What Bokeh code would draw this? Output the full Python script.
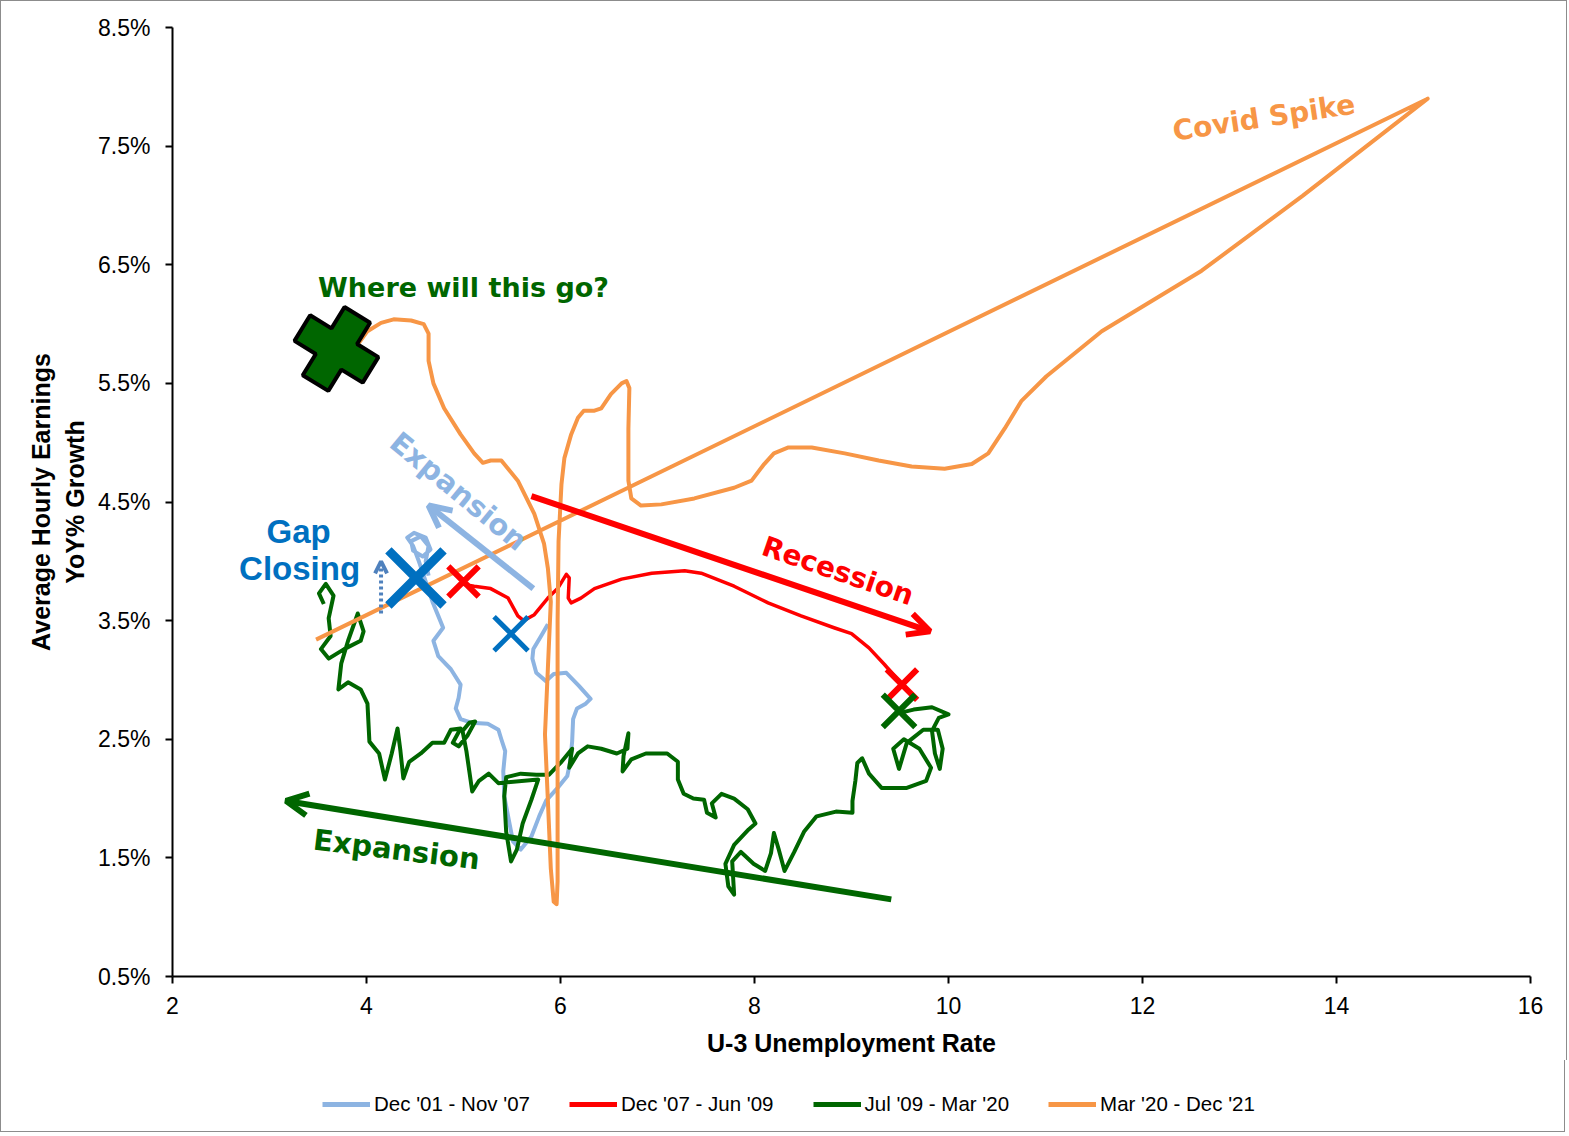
from bokeh.plotting import figure
from bokeh.layouts import column
from bokeh.models import (FixedTicker, PrintfTickFormatter, Legend, LegendItem,
                          Arrow, OpenHead, Label)
from bokeh.embed import file_html
from bokeh.resources import INLINE

# ---------------- data (U-3 unemployment rate, AHE YoY %) ----------------
lb_x = [5.87, 5.80, 5.72, 5.71, 5.75, 5.85, 5.93, 6.06, 6.19, 6.31, 6.26, 6.17, 6.13,
        6.12, 6.10, 6.07, 5.97, 5.85, 5.78, 5.70, 5.59, 5.51, 5.46, 5.42, 5.41, 5.43,
        5.39, 5.36, 5.25, 5.08, 4.97, 4.92, 4.95, 4.97, 4.87, 4.74, 4.69, 4.79, 4.74,
        4.68, 4.61, 4.54, 4.48, 4.42, 4.49, 4.61, 4.66, 4.58, 4.48, 4.46, 4.56, 4.64,
        4.61, 4.64]
lb_y = [3.47, 3.37, 3.26, 3.18, 3.06, 2.99, 3.05, 3.06, 2.95, 2.84, 2.80, 2.76, 2.67,
        2.48, 2.31, 2.19, 2.09, 1.98, 1.85, 1.68, 1.57, 1.64, 1.85, 2.02, 2.23, 2.40,
        2.50, 2.58, 2.63, 2.64, 2.67, 2.76, 2.85, 2.96, 3.09, 3.20, 3.33, 3.44, 3.54,
        3.66, 3.83, 4.00, 4.13, 4.20, 4.24, 4.20, 4.10, 4.04, 4.09, 4.17, 4.21, 4.13,
        4.00, 3.88]

red_x = [4.97, 5.11, 5.28, 5.46, 5.56, 5.62, 5.73, 5.87, 5.97, 6.06, 6.09, 6.08, 6.11,
         6.21, 6.35, 6.63, 6.94, 7.28, 7.45, 7.79, 8.14, 8.48, 8.82, 9.00, 9.18, 9.34, 9.52]
red_y = [3.81, 3.79, 3.77, 3.69, 3.54, 3.50, 3.55, 3.69, 3.77, 3.89, 3.86, 3.69, 3.65,
         3.69, 3.77, 3.85, 3.90, 3.92, 3.90, 3.79, 3.65, 3.54, 3.44, 3.39, 3.27, 3.13, 2.96]

grn_x = [9.49, 9.64, 9.83, 10.00, 9.90, 9.83, 9.86, 9.91, 9.94, 9.89, 9.74, 9.57, 9.49,
         9.43, 9.54, 9.70, 9.82, 9.77, 9.57, 9.31, 9.18, 9.11, 9.06, 9.04, 9.01, 9.01,
         8.84, 8.64, 8.51, 8.41, 8.31, 8.25, 8.20, 8.17, 8.11, 7.99, 7.86, 7.77, 7.79,
         7.73, 7.70, 7.79, 7.94, 8.01, 7.93, 7.79, 7.66, 7.56, 7.60, 7.51, 7.48, 7.37,
         7.27, 7.21, 7.21, 7.10, 6.88, 6.73, 6.64, 6.65, 6.70, 6.69, 6.58, 6.42, 6.28,
         6.18, 6.09, 6.12, 6.01, 5.88, 5.75, 5.59, 5.44, 5.42, 5.44, 5.49, 5.55, 5.61,
         5.70, 5.77, 5.36, 5.26, 5.16, 5.09, 5.06, 5.03, 4.99, 5.06, 5.12, 5.04, 4.95,
         4.89, 4.97, 4.87, 4.80, 4.68, 4.56, 4.44, 4.38, 4.35, 4.32, 4.26, 4.19, 4.13,
         4.03, 4.01, 3.94, 3.81, 3.71, 3.74, 3.81, 3.91, 3.97, 3.94, 3.77, 3.61, 3.53,
         3.63, 3.61, 3.66, 3.58, 3.51, 3.56]
grn_y = [2.72, 2.75, 2.77, 2.71, 2.68, 2.57, 2.38, 2.25, 2.42, 2.58, 2.58, 2.47, 2.25,
         2.42, 2.50, 2.42, 2.26, 2.15, 2.09, 2.09, 2.21, 2.34, 2.30, 2.15, 1.98, 1.88,
         1.89, 1.85, 1.72, 1.55, 1.39, 1.57, 1.71, 1.54, 1.39, 1.45, 1.55, 1.47, 1.19,
         1.26, 1.45, 1.61, 1.74, 1.79, 1.91, 2.00, 2.04, 1.96, 1.84, 1.88, 1.99, 2.00,
         2.04, 2.16, 2.31, 2.38, 2.38, 2.33, 2.23, 2.36, 2.55, 2.42, 2.38, 2.42, 2.44,
         2.38, 2.26, 2.42, 2.31, 2.20, 2.20, 2.21, 2.18, 2.02, 1.72, 1.47, 1.57, 1.79,
         1.99, 2.16, 2.13, 2.21, 2.15, 2.06, 2.23, 2.40, 2.57, 2.64, 2.65, 2.53, 2.44,
         2.47, 2.59, 2.58, 2.47, 2.47, 2.38, 2.31, 2.17, 2.40, 2.59, 2.38, 2.16, 2.38,
         2.48, 2.80, 2.92, 2.98, 2.92, 3.14, 3.33, 3.56, 3.41, 3.33, 3.26, 3.18, 3.26,
         3.37, 3.52, 3.71, 3.81, 3.73, 3.64]

org_x = [3.48, 14.94, 13.65, 12.61, 11.58, 11.01, 10.75, 10.58, 10.41, 10.24, 9.96,
         9.62, 9.28, 8.93, 8.59, 8.35, 8.20, 8.10, 7.97, 7.79, 7.38, 7.04, 6.83, 6.73,
         6.70, 6.70, 6.71, 6.68, 6.63, 6.52, 6.42, 6.35, 6.24, 6.18, 6.11, 6.04, 6.01,
         5.98, 5.97, 5.97, 5.97, 5.97, 5.96, 5.93, 5.90, 5.87, 5.84, 5.87, 5.90, 5.87,
         5.83, 5.73, 5.56, 5.39, 5.28, 5.20, 5.11, 4.97, 4.80, 4.69, 4.64, 4.64, 4.59,
         4.46, 4.28, 4.15, 4.01, 3.92]
org_y = [3.34, 7.90, 7.08, 6.45, 5.94, 5.56, 5.35, 5.12, 4.91, 4.82, 4.78, 4.80, 4.85,
         4.91, 4.96, 4.96, 4.91, 4.82, 4.68, 4.62, 4.53, 4.48, 4.47, 4.53, 4.68, 5.12,
         5.46, 5.52, 5.50, 5.41, 5.29, 5.27, 5.27, 5.21, 5.07, 4.87, 4.65, 4.17, 3.50,
         2.82, 1.98, 1.30, 1.11, 1.13, 1.41, 1.98, 2.54, 3.10, 3.66, 3.94, 4.15, 4.40,
         4.68, 4.85, 4.85, 4.83, 4.91, 5.07, 5.29, 5.50, 5.69, 5.92, 6.00, 6.03, 6.04,
         6.01, 5.94, 5.84]

series_labels = ["Dec '01 - Nov '07", "Dec '07 - Jun '09", "Jul '09 - Mar '20", "Mar '20 - Dec '21"]
y_ticks = [0.5, 1.5, 2.5, 3.5, 4.5, 5.5, 6.5, 7.5, 8.5]
x_ticks = [2, 4, 6, 8, 10, 12, 14, 16]

# annotation markers
x_marks_x = [4.51, 5.49]
x_marks_y = [3.86, 3.39]
red_marks_x = [5.00, 9.52]
red_marks_y = [3.83, 2.96]
grn_mark = (9.49, 2.74)
plus_mark = (3.69, 5.79)

LB = "#8DB4E2"
RED = "#FF0000"
GRN = "#006600"
ORG = "#F79646"
BLUE = "#0070C0"
colors = [LB, RED, GRN, ORG]
series_xy = [(lb_x, lb_y), (red_x, red_y), (grn_x, grn_y), (org_x, org_y)]

p = figure(frame_width=1356, frame_height=948, x_range=(2, 16), y_range=(0.5, 8.5),
           output_backend="svg", toolbar_location=None,
           min_border_left=171, min_border_right=38, min_border_top=26, min_border_bottom=85)
p.styles = {"border": "1px solid #8c8c8c", "border-bottom": "none"}
p.outline_line_color = None
p.xgrid.visible = False
p.ygrid.visible = False
p.background_fill_color = "white"

p.line(lb_x, lb_y, line_color=LB, line_width=4, line_join="round")
p.line(red_x, red_y, line_color=RED, line_width=3.5, line_join="round")
p.line(grn_x, grn_y, line_color=GRN, line_width=4, line_join="round")
p.line(org_x, org_y, line_color=ORG, line_width=4, line_join="round")

# markers
p.scatter(x_marks_x, x_marks_y, marker="x", size=[78, 48], line_color=BLUE, line_width=[9, 5])
p.scatter(red_marks_x, red_marks_y, marker="x", size=43, line_color=RED, line_width=6)
p.scatter([grn_mark[0]], [grn_mark[1]], marker="x", size=46, line_color=GRN, line_width=6)
p.scatter([plus_mark[0]], [plus_mark[1]], marker="plus", size=80, angle=-0.55,
          fill_color=GRN, line_color="black", line_width=4)

# arrows
p.add_layout(Arrow(end=OpenHead(size=22, line_color=LB, line_width=6), x_start=5.72, y_start=3.77,
                   x_end=4.64, y_end=4.47, line_color=LB, line_width=6))
p.add_layout(Arrow(end=OpenHead(size=22, line_color=RED, line_width=6), x_start=5.70, y_start=4.55,
                   x_end=9.81, y_end=3.41, line_color=RED, line_width=6))
p.add_layout(Arrow(end=OpenHead(size=22, line_color=GRN, line_width=6), x_start=9.41, y_start=1.15,
                   x_end=3.17, y_end=1.98, line_color=GRN, line_width=6))
p.add_layout(Arrow(end=OpenHead(size=12, line_color="#4F81BD", line_width=4), x_start=4.15, y_start=3.56,
                   x_end=4.15, y_end=4.00, line_color="#4F81BD", line_width=4, line_dash="3 3"))

def lab(x, y, text, color, size, angle=0.0, font="DejaVu Sans"):
    p.add_layout(Label(x=x, y=y, text=text, text_color=color, text_font=font,
                       text_font_size=size, text_font_style="bold", angle=angle,
                       text_align="center", text_baseline="middle"))

lab(13.25, 7.74, "Covid Spike", ORG, "28px", 0.15)
lab(5.00, 6.31, "Where will this go?", GRN, "27px")
lab(3.30, 4.25, "Gap", BLUE, "33px", 0, "Liberation Sans")
lab(3.31, 3.94, "Closing", BLUE, "33px", 0, "Liberation Sans")
lab(4.95, 4.59, "Expansion", LB, "29px", -0.69)
lab(8.86, 3.92, "Recession", RED, "28px", -0.33)
lab(4.31, 1.57, "Expansion", GRN, "29px", -0.12)

# axes
p.xaxis.ticker = FixedTicker(ticks=x_ticks)
p.yaxis.ticker = FixedTicker(ticks=y_ticks)
p.yaxis.formatter = PrintfTickFormatter(format="%.1f%%")
for ax in (p.xaxis[0], p.yaxis[0]):
    ax.axis_line_width = 2
    ax.axis_line_color = "black"
    ax.major_tick_line_width = 2
    ax.major_tick_line_color = "black"
    ax.major_tick_out = 7
    ax.major_tick_in = 0
    ax.minor_tick_line_color = None
    ax.major_label_text_font = "Liberation Sans"
    ax.major_label_text_font_size = "23px"
    ax.major_label_text_color = "black"
    ax.axis_label_text_font = "Liberation Sans"
    ax.axis_label_text_font_style = "bold"
    ax.axis_label_text_font_size = "25px"
    ax.axis_label_text_color = "black"
p.xaxis.axis_label = "U-3 Unemployment Rate"
p.yaxis.axis_label = "Average Hourly Earnings\nYoY% Growth"
p.xaxis.major_label_standoff = 13
p.xaxis.axis_label_standoff = 12
p.yaxis.major_label_standoff = 15
p.yaxis.axis_label_standoff = 6

# legend strip below the chart (its ranges keep the series out of view)
q = figure(width=1565, height=72, x_range=(100, 101), y_range=(100, 101), output_backend="svg",
           toolbar_location=None, min_border=0)
q.styles = {"border": "1px solid #8c8c8c", "border-top": "none"}
q.axis.visible = False
q.xgrid.visible = False
q.ygrid.visible = False
q.outline_line_color = None
items = []
for lbl, col, (sx, sy) in zip(series_labels, colors, series_xy):
    r = q.line(sx, sy, line_color=col, line_width=5)
    items.append(LegendItem(label=lbl, renderers=[r]))
legend = Legend(items=items, orientation="horizontal", location=(150, 16),
                glyph_width=48, glyph_height=20,
                label_text_font="Liberation Sans", label_text_font_size="20.5px",
                label_text_color="black",
                spacing=39, label_standoff=4, border_line_color=None,
                background_fill_alpha=0, padding=10, margin=0)
q.add_layout(legend, "center")

layout = column(p, q, spacing=0)
open("out.html", "w").write(file_html(layout, INLINE))
